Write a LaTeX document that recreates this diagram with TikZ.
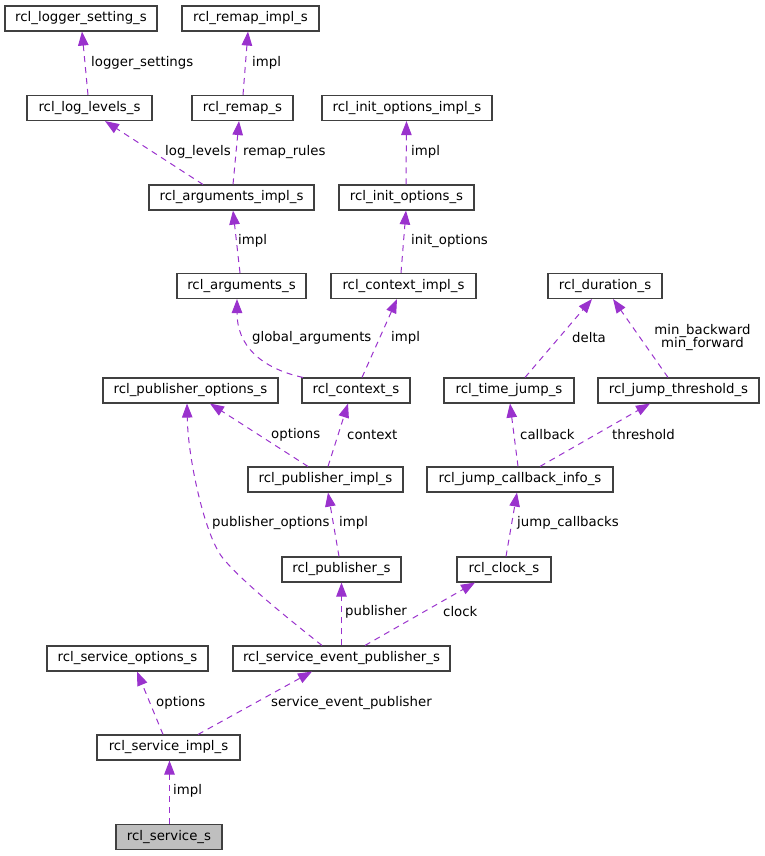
\documentclass[tikz,border=0pt]{standalone}
\usepackage{fontspec}
\setmainfont{DejaVu Sans}
\usetikzlibrary{arrows.meta}
\definecolor{edgecol}{RGB}{154,50,205}
\definecolor{boxcol}{RGB}{64,64,64}
\definecolor{grayfill}{RGB}{191,191,191}
\begin{document}
\begin{tikzpicture}[x=1pt,y=-1pt,
  box/.style={draw=boxcol,line width=1.1pt,fill=white,rectangle,inner sep=0pt,minimum height=25pt,font=\fontsize{13.3}{15}\selectfont},
  lbl/.style={anchor=west,inner sep=0pt,font=\fontsize{13.3}{15}\selectfont,text=black},
  edge/.style={draw=edgecol,line width=1pt,dash pattern=on 6pt off 5pt,-{Triangle[length=14pt,width=10.5pt]}}]
\useasboundingbox (0,0) rectangle (764,856);
% nodes
\node[box,minimum width=152pt] (n1) at (81,18.5) {rcl\_logger\_setting\_s};
\node[box,minimum width=137pt] (n2) at (250.5,18.5) {rcl\_remap\_impl\_s};
\node[box,minimum width=125pt] (n3) at (89.5,108) {rcl\_log\_levels\_s};
\node[box,minimum width=101pt] (n4) at (242.5,108) {rcl\_remap\_s};
\node[box,minimum width=170pt] (n5) at (407,108) {rcl\_init\_options\_impl\_s};
\node[box,minimum width=165pt] (n6) at (231.5,197.5) {rcl\_arguments\_impl\_s};
\node[box,minimum width=135pt] (n7) at (406.5,197.5) {rcl\_init\_options\_s};
\node[box,minimum width=129pt] (n8) at (241.5,286) {rcl\_arguments\_s};
\node[box,minimum width=145pt] (n9) at (403.5,286) {rcl\_context\_impl\_s};
\node[box,minimum width=114pt] (n10) at (605,286) {rcl\_duration\_s};
\node[box,minimum width=175pt] (n11) at (190.5,390.5) {rcl\_publisher\_options\_s};
\node[box,minimum width=108pt] (n12) at (356,390.5) {rcl\_context\_s};
\node[box,minimum width=130pt] (n13) at (509,390.5) {rcl\_time\_jump\_s};
\node[box,minimum width=161pt] (n14) at (678.5,390.5) {rcl\_jump\_threshold\_s};
\node[box,minimum width=155pt] (n15) at (325.5,479.5) {rcl\_publisher\_impl\_s};
\node[box,minimum width=186pt] (n16) at (520,479.5) {rcl\_jump\_callback\_info\_s};
\node[box,minimum width=119pt] (n17) at (341.5,569.5) {rcl\_publisher\_s};
\node[box,minimum width=94pt] (n18) at (504,569.5) {rcl\_clock\_s};
\node[box,minimum width=161pt] (n19) at (127.5,658.5) {rcl\_service\_options\_s};
\node[box,minimum width=217pt] (n20) at (341.5,658.5) {rcl\_service\_event\_publisher\_s};
\node[box,minimum width=143pt] (n21) at (168.5,747.5) {rcl\_service\_impl\_s};
\node[box,minimum width=106pt,fill=grayfill] (n22) at (169,837) {rcl\_service\_s};
% edges
\draw[edge] ([xshift=-1.5pt]n3.north) -- ([xshift=1pt]n1.south);
\draw[edge] ([xshift=0.5pt]n4.north) -- ([xshift=-2.5pt]n2.south);
\draw[edge] ([xshift=-28.5pt]n6.north) -- ([xshift=15.5pt]n3.south);
\draw[edge] ([xshift=1.5pt]n6.north) -- ([xshift=-3.5pt]n4.south);
\draw[edge] ([xshift=-0.5pt]n7.north) -- ([xshift=-0.5pt]n5.south);
\draw[edge] ([xshift=-1.5pt]n8.north) -- ([xshift=1.5pt]n6.south);
\draw[edge] ([xshift=-2.5pt]n9.north) -- ([xshift=-0.5pt]n7.south);
\draw[edge] ([xshift=-53pt]n12.north) .. controls (260,368) and (237,345) .. ([xshift=-4.5pt]n8.south);
\draw[edge] ([xshift=6pt]n12.north) -- ([xshift=-6.5pt]n9.south);
\draw[edge] ([xshift=16pt]n13.north) -- ([xshift=-13pt]n10.south);
\draw[edge] ([xshift=-10.5pt]n14.north) -- ([xshift=8pt]n10.south);
\draw[edge] ([xshift=-17.5pt]n15.north) -- ([xshift=19.5pt]n11.south);
\draw[edge] ([xshift=2.5pt]n15.north) -- ([xshift=-8pt]n12.south);
\draw[edge] ([xshift=-2pt]n16.north) -- ([xshift=1pt]n13.south);
\draw[edge] ([xshift=20pt]n16.north) -- ([xshift=-28.5pt]n14.south);
\draw[edge] ([xshift=-2.5pt]n17.north) -- ([xshift=2.5pt]n15.south);
\draw[edge] ([xshift=2pt]n18.north) -- ([xshift=-3pt]n16.south);
\draw[edge] ([xshift=-19.5pt]n20.north) .. controls (290,620) and (240,580) .. (222,557) .. controls (205,535) and (188,460) .. ([xshift=-3.5pt]n11.south);
\draw[edge] ([xshift=0pt]n20.north) -- ([xshift=0pt]n17.south);
\draw[edge] ([xshift=23.5pt]n20.north) -- ([xshift=-29pt]n18.south);
\draw[edge] ([xshift=-5.5pt]n21.north) -- ([xshift=9.5pt]n19.south);
\draw[edge] ([xshift=29.5pt]n21.north) -- ([xshift=-29.5pt]n20.south);
\draw[edge] ([xshift=0.5pt]n22.north) -- ([xshift=1pt]n21.south);
% labels
\node[lbl] (l1) at (91,63) {logger\_settings};
\node[lbl] (l2) at (252,63) {impl};
\node[lbl] (l3) at (165,152) {log\_levels};
\node[lbl] (l4) at (243,152) {remap\_rules};
\node[lbl] (l5) at (411,152) {impl};
\node[lbl] (l6) at (238,241) {impl};
\node[lbl] (l7) at (411,241) {init\_options};
\node[lbl] (l8) at (252,338) {global\_arguments};
\node[lbl] (l9) at (391,338) {impl};
\node[lbl] (l10) at (572,338) {delta};
\node[lbl,anchor=center,align=center,font=\fontsize{13.3}{13.3}\selectfont] (l11) at (702.5,337.5) {min\_backward\\min\_forward};
\node[lbl] (l12) at (271,435) {options};
\node[lbl] (l13) at (347,435) {context};
\node[lbl] (l14) at (520,435) {callback};
\node[lbl] (l15) at (612,435) {threshold};
\node[lbl] (l16) at (212,523) {publisher\_options};
\node[lbl] (l17) at (339,523) {impl};
\node[lbl] (l18) at (517,523) {jump\_callbacks};
\node[lbl] (l19) at (345,612) {publisher};
\node[lbl] (l20) at (443,612) {clock};
\node[lbl] (l21) at (156,703) {options};
\node[lbl] (l22) at (271,703) {service\_event\_publisher};
\node[lbl] (l23) at (173,791) {impl};
\end{tikzpicture}
\end{document}
